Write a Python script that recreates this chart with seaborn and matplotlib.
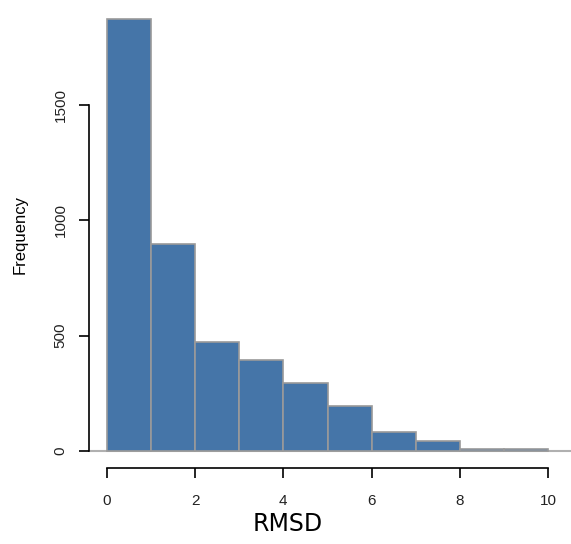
import numpy as np
import seaborn as sns
from matplotlib import pyplot as plt

# histogram of RMSD values, unit-wide bins from 0 to 10
bin_edges = [0, 1, 2, 3, 4, 5, 6, 7, 8, 9, 10]
bin_mids = [0.5, 1.5, 2.5, 3.5, 4.5, 5.5, 6.5, 7.5, 8.5, 9.5]
counts = [1873, 897, 472, 394, 295, 195, 82, 43, 8, 6]
y_ticks = [0, 500, 1000, 1500]
x_ticks = [0, 2, 4, 6, 8, 10]

sns.set_style('white')
plt.rcParams['font.family'] = ['Liberation Sans', 'DejaVu Sans']
plt.rcParams['text.color'] = 'black'
plt.rcParams['axes.labelcolor'] = 'black'
plt.rcParams['xtick.color'] = 'black'
plt.rcParams['ytick.color'] = 'black'

fig = plt.figure(figsize=(5.71, 5.44), dpi=100)
ax = fig.add_axes([89 / 571, 76 / 544, 477 / 571, 466 / 544])

sns.histplot(x=bin_mids, weights=counts, bins=bin_edges, ax=ax,
             color='#4575a8', edgecolor='#9a9a9a', linewidth=1.2, alpha=1)
ax.axhline(0, color='#b0b0b0', lw=1.5, zorder=0, xmin=0, xmax=1.02, clip_on=False)

ax.set_xlim(-0.4, 10.4)
ax.set_ylim(-75, 1948)

for s in ['top', 'right']:
    ax.spines[s].set_visible(False)
ax.spines['left'].set_bounds(0, 1500)
ax.spines['bottom'].set_bounds(0, 10)
for s in ['left', 'bottom']:
    ax.spines[s].set_color('black')
    ax.spines[s].set_linewidth(1.2)

ax.set_yticks(y_ticks)
ax.set_xticks(x_ticks)
ax.tick_params(axis='both', length=7, width=1.2, color='black',
               labelsize=11, labelcolor='#222222', direction='out',
               left=True, bottom=True)
ax.tick_params(axis='y', pad=8.5)
ax.tick_params(axis='x', pad=12)
plt.setp(ax.get_yticklabels(), rotation=90, va='center')

ax.set_ylabel('Frequency', fontsize=12)
ax.yaxis.set_label_coords(-0.128, 0.5)
ax.set_xlabel('RMSD', fontsize=17, family='DejaVu Sans')
ax.xaxis.set_label_coords((287.5 - 89) / 477, -0.095)

fig.savefig('out.png', dpi=100)
